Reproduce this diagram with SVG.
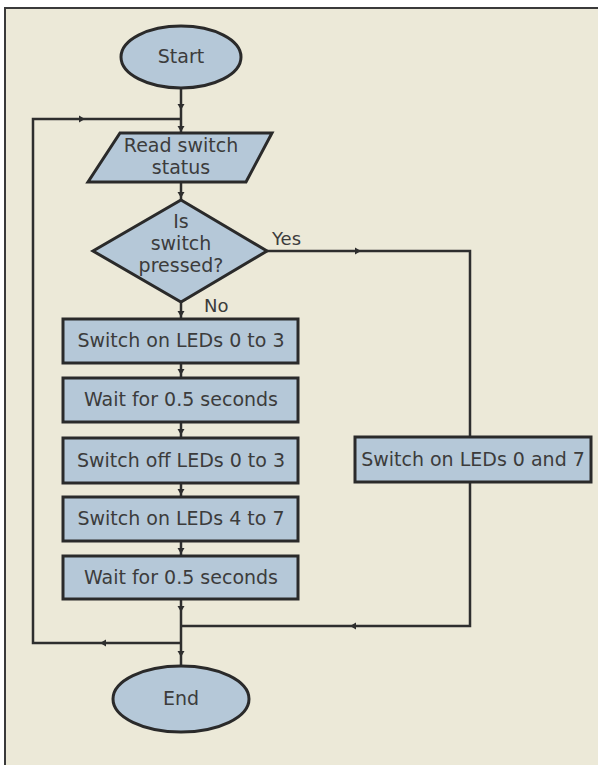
<svg xmlns="http://www.w3.org/2000/svg" width="598" height="765" viewBox="0 0 598 765">
<style>
.sh{fill:#b5c8d8;stroke:#2a2a2a;stroke-width:3}
.ln{fill:none;stroke:#2e2e2e;stroke-width:2.5}
.t{font-family:"DejaVu Sans","Verdana",sans-serif;font-size:19px;fill:#3c3c3c;text-anchor:middle}
.lb{font-family:"DejaVu Sans","Verdana",sans-serif;font-size:18px;fill:#3c3c3c}
</style>
<defs>
<polygon id="tk" points="-3.5,-3 3.5,-3 0,3" fill="#2e2e2e"/>
</defs>
<rect x="0" y="0" width="598" height="765" fill="#ffffff"/>
<rect x="5" y="8" width="593" height="757" fill="#ece9d8"/>
<path d="M5 765 V8 H598" fill="none" stroke="#3a3a3a" stroke-width="2"/>
<g id="connectors">
<path class="ln" d="M181 88 V133"/>
<path class="ln" d="M181 183 V200"/>
<path class="ln" d="M181 302 V319"/>
<path class="ln" d="M181 363 V378"/>
<path class="ln" d="M181 422 V438"/>
<path class="ln" d="M181 483 V497"/>
<path class="ln" d="M181 541 V556"/>
<path class="ln" d="M181 599 V666"/>
<path class="ln" d="M267 251 H470 V437"/>
<path class="ln" d="M470 482 V626 H181"/>
<path class="ln" d="M181 643 H33 V119 H181"/>
<use href="#tk" transform="translate(181,107)"/>
<use href="#tk" transform="translate(181,129)"/>
<use href="#tk" transform="translate(82,119) rotate(-90)"/>
<use href="#tk" transform="translate(181,195)"/>
<use href="#tk" transform="translate(181,314)"/>
<use href="#tk" transform="translate(181,372)"/>
<use href="#tk" transform="translate(181,432)"/>
<use href="#tk" transform="translate(181,492)"/>
<use href="#tk" transform="translate(181,551)"/>
<use href="#tk" transform="translate(181,609)"/>
<use href="#tk" transform="translate(181,654)"/>
<use href="#tk" transform="translate(358,251) rotate(-90)"/>
<use href="#tk" transform="translate(353,626) rotate(90)"/>
<use href="#tk" transform="translate(103,643) rotate(90)"/>
<text class="lb" x="272" y="245">Yes</text>
<text class="lb" x="204" y="312">No</text>
</g>
<g id="start">
<ellipse class="sh" cx="181" cy="57" rx="60" ry="31"/>
<text class="t" x="181" y="63">Start</text>
</g>
<g id="read">
<polygon class="sh" points="120,133 272,133 246,182 88,182"/>
<text class="t" x="181" y="152">Read switch</text>
<text class="t" x="181" y="174">status</text>
</g>
<g id="decision">
<polygon class="sh" points="181,200 267,251 181,302 93,251"/>
<text class="t" x="181" y="228">Is</text>
<text class="t" x="181" y="250">switch</text>
<text class="t" x="181" y="272">pressed?</text>
</g>
<g id="on03">
<rect class="sh" x="63" y="319" width="235" height="44"/>
<text class="t" x="181" y="347">Switch on LEDs 0 to 3</text>
</g>
<g id="wait1">
<rect class="sh" x="63" y="378" width="235" height="44"/>
<text class="t" x="181" y="406">Wait for 0.5 seconds</text>
</g>
<g id="off03">
<rect class="sh" x="63" y="438" width="235" height="45"/>
<text class="t" x="181" y="467">Switch off LEDs 0 to 3</text>
</g>
<g id="on47">
<rect class="sh" x="63" y="497" width="235" height="44"/>
<text class="t" x="181" y="525">Switch on LEDs 4 to 7</text>
</g>
<g id="wait2">
<rect class="sh" x="63" y="556" width="235" height="43"/>
<text class="t" x="181" y="584">Wait for 0.5 seconds</text>
</g>
<g id="on07">
<rect class="sh" x="355" y="437" width="236" height="45"/>
<text class="t" x="473" y="466">Switch on LEDs 0 and 7</text>
</g>
<g id="end">
<ellipse class="sh" cx="181" cy="699" rx="68" ry="33"/>
<text class="t" x="181" y="705">End</text>
</g>
</svg>
